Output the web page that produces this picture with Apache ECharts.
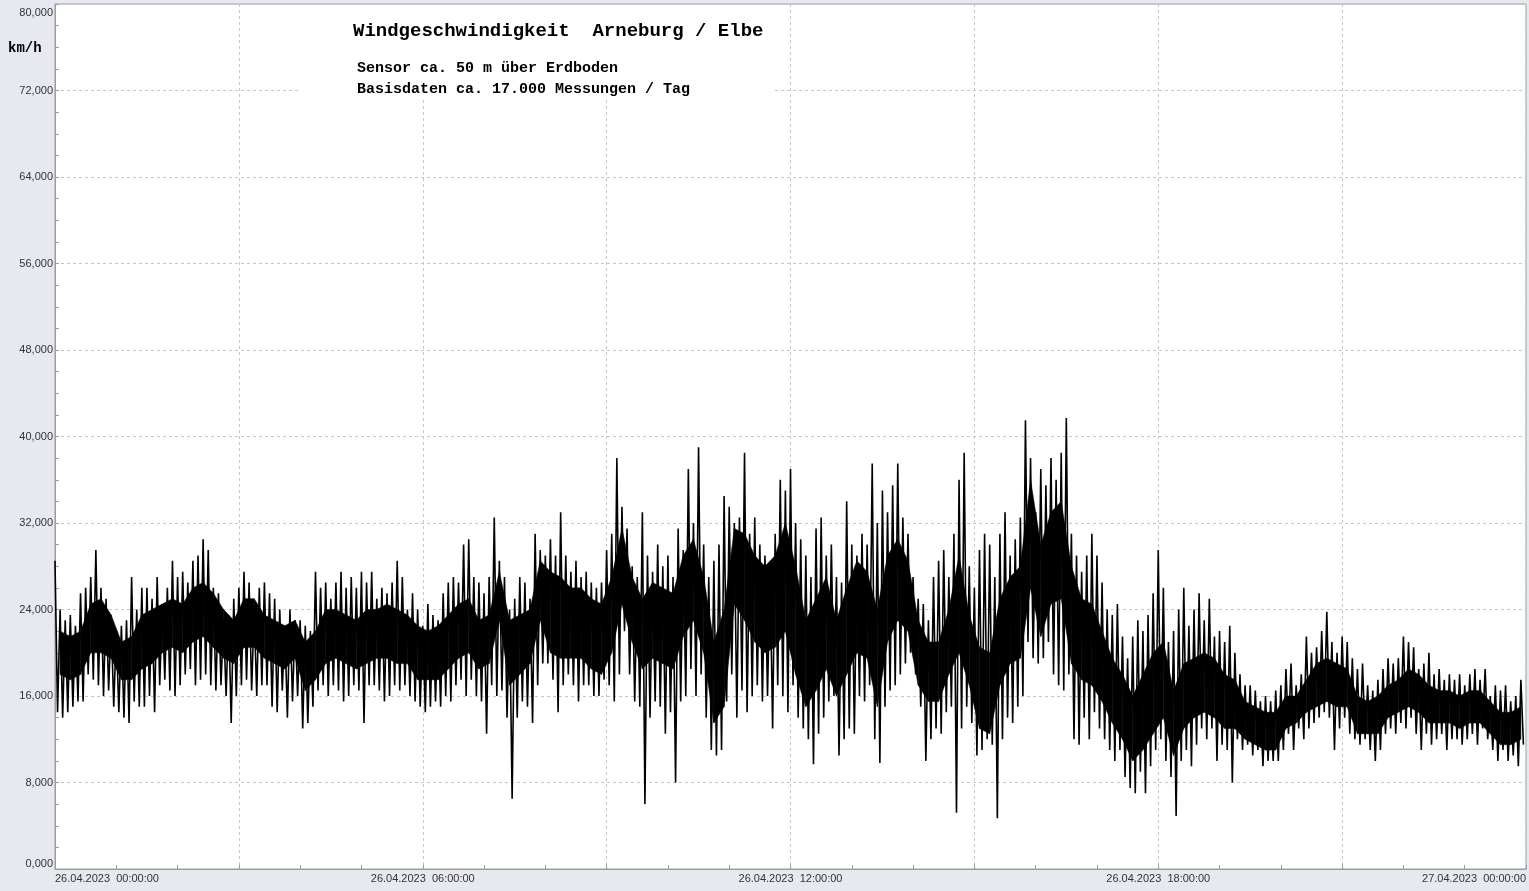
<!DOCTYPE html>
<html>
<head>
<meta charset="utf-8">
<script src="https://cdn.jsdelivr.net/npm/echarts@6/dist/echarts.min.js"></script>
<style>
html,body{margin:0;padding:0;background:#e6e9f0;}
#chart{width:1529px;height:891px;}
</style>
</head>
<body>
<div id="chart"></div>
<script>
// 5-minute bins over 26.04.2023 00:00 -> 27.04.2023 00:00 (288 bins): upper and lower spike reading per bin
const binMinutes = 5;
const hiValues = [
28.5,24,23,23.5,22.5,25.5,26,27,29.5,26,25,23,
22,22.5,23,27,24,26,26,25,27,24.5,26,28.5,
27,27.5,26.5,28.5,29,30.5,29.5,26,25.5,23,23.5,25,
26,27.5,26.5,24,26,26.5,25.5,25,24,22.5,24,23,
23,22.5,22,27.5,26,26.5,25,26.5,27.5,26,27,26,
27.5,26.5,27.5,25,26,25.5,26.5,28.5,27,24,25.5,24,
22.5,24.5,23.5,23,25.5,26.5,27,26.5,30,30.5,27,26.5,
25.5,27,32.5,28.5,27,24,25,27,26.5,25,31,29.5,
29,30.5,29,33,29,27.5,28.5,27,27.5,26.5,26,26.5,
29.5,31,38,33.5,31.5,28,27,33,29,27.5,30,28,
29,27,31.5,29.5,37,32,39,30,27,28.5,30,34.5,
33.5,32,32.5,38.5,31,32.5,30,29,27.5,31,36,35,
37,32,30.5,29,27,31.5,32.5,29,30,27,26.5,34,
30,29,31,30,37.5,32,35,33,35.5,37.5,32.5,31,
27,25,24.5,23,27,28.5,29.5,27,31,36,38.5,28,
26,29.5,31,30,27,31,33,29,30.5,32.5,41.5,38,
33,37,35.5,38,36,38.5,41.7,31,29,27.5,29,31,
29,26.5,24,23.5,24.5,21.5,19.5,21.5,23,22,23.5,25.5,
29.5,26,21,22,24,26,22.5,24,25.5,23,25,21.5,
22,21,22.5,20,18,17,17,16.5,15.5,16,15.5,16.5,
17,18.5,19,17,18,21.5,20,20.5,22,23.8,21,20,
21.5,21,19.5,18.5,19,17,16.5,17.5,18.5,19.5,19,19.5,
21.5,21,20.5,18.5,19,20,18,18.5,17.5,18,17.5,18,
17,18,18.5,17.5,18.5,16,17,16.5,17,15.5,16,17.5
];
const loValues = [
14.5,14,14.5,15,15.5,15.5,18,17.5,17,16,16.5,15,
14.5,14,13.5,15.5,15,15,16,14.5,17,17.5,16.5,16,
17,18,18.5,17,17.5,18,17,16.5,17,16,13.5,16,
17,17.5,16.5,16,17,17,15,14.5,16.5,14,15.5,16,
13,13.5,15,16.5,17,16,17,16.5,15.5,16,17,16.5,
13.5,17,17,16.5,15.5,16,17,16.5,17,16,15.5,15,
14.5,15,15.5,15,16,15.5,17,17.5,16,17.5,16,15.5,
12.5,17,16,16.5,14,6.5,14,15.5,15,13.5,17,19,
19,17.5,14.5,17,18,17,15.5,17,17,16,16,17.5,
17,15.5,18,22,18,15.5,15,6,14,15.5,15,12.5,
14.5,8,15.5,16,18.5,16,18,14,11,10.5,11,15.5,
18,14,16.5,14.5,16,17,15.5,16,13,17,16,14.5,
17,14,13,12,9.7,12.5,14,15.5,16,10.5,12,13,
12.5,16,15.5,17,12,9.8,15,16.5,17,18,19,20,
18,15,10,12,13,12.5,14.5,15,5.2,13,15,13.5,
10.5,11,12,11.5,4.7,12,14,13.5,15,16,21,19.5,
19,19.5,21,18,17,16.5,18,12,11.5,14,12,14.5,
13,12,11,10,11,8.5,7.5,7,9,7,9.5,11,
12,10,8.5,4.9,10,11,9.5,11.5,13,12,13,10,
11.5,11,8,12,11,11.5,10.5,11,9.5,10,10,10,
11,12.5,11,13,12,13,13.5,14,14.5,14,11,13,
14,12.5,12,11.5,12,11,10,11,12.5,13,12.5,13.5,
13,14,12.5,11,12.5,11.5,12,12.5,11,12,12,11.5,
12,12.5,11.5,13,12,11,10,11,10,10.5,9.5,11.5
];
// 10-minute bins (144): upper and lower edge of the dense (solid black) core of the trace
const coreMinutes = 10;
const coreHiValues = [
22,21.5,22,24.5,25,23.5,21,21.5,23.5,24,24.5,25,
24.5,26,26.5,25.5,24,23,25,25,23.5,23,22.5,23,
21,22,24,24,23.5,23,24,24,24.5,24,23.5,22.5,
22,22.5,23.5,24.5,25,23,23.5,27.5,23,23.5,24,28.5,
27.5,27,26,26,25,24.5,27,31.5,27,25,26.5,26,
25.5,29,30.5,27,21,24,31.5,31,29,28,29,32,
28,23,25,27,23,26,28.5,27.5,24,29,30.5,28.5,
23,21,21,24,29,23.5,20.5,20,25,27,28,36,
30,33,34,28,25,24.5,22,19.5,18,16,18,20,
21,16.5,19,19.5,20,19.5,18,17.5,15.5,15,14.5,14.5,
16,16,17.5,19,19.5,19,18.5,16,15.5,16,17,17.5,
18.5,18,17,16.5,16.5,16,16.5,16.5,15.5,14.5,14.5,15
];
const coreLoValues = [
18,17.5,18,20,20,19.5,17.5,17.5,18.5,19,20,20.5,
20,21,21.5,20.5,19.5,19,20.5,20.5,19.5,19,18.5,19.5,
16.5,17.5,19,19.5,19,18.5,19,19.5,19.5,19,19,17.5,
17.5,17.5,18.5,19.5,20,18.5,19,23,17,18,19,23,
20,19.5,19.5,19.5,18.5,18,20,24.5,21,18.5,19.5,19,
18.5,21.5,23,20,13.5,15,24.5,23,21,20,20.5,22,
18,15,16.5,18.5,16,18,20,19.5,15,21,23,22,
17,15.5,15.5,18,20,17,13,12.5,17,19,19.5,26,
21.5,24.5,25,19,17.5,17,15.5,13.5,12,10,11,12.5,
14,10.5,13,14,14.5,14,13,13,12,11.5,11,11,
13,13.5,14.5,15,15.5,15,15,12.5,12.5,12.5,14,14.5,
15,14.5,13.5,13.5,13.5,13,13.5,13.5,12.5,11.5,11.5,12
];
const xTickLabels = ['26.04.2023  00:00:00','26.04.2023  06:00:00','26.04.2023  12:00:00','26.04.2023  18:00:00','27.04.2023  00:00:00'];
const titleText = 'Windgeschwindigkeit  Arneburg / Elbe';
const subLine1 = 'Sensor ca. 50 m über Erdboden';
const subLine2 = 'Basisdaten ca. 17.000 Messungen / Tag';
const unitText = 'km/h';

const traceData = [];
for (let i = 0; i < hiValues.length; i++) {
  traceData.push([i * binMinutes, hiValues[i]]);
  traceData.push([i * binMinutes + binMinutes / 2, loValues[i]]);
}
const coreData = [];
for (let j = 0; j < coreHiValues.length; j++) {
  coreData.push([j * coreMinutes + coreMinutes / 2, coreLoValues[j], coreHiValues[j]]);
}

function renderCore(params, api) {
  const i = params.dataIndexInside;
  if (i >= coreData.length - 1) return null;
  const a = coreData[i], b = coreData[i + 1];
  const pts = [
    api.coord([a[0], a[1]]), api.coord([a[0], a[2]]),
    api.coord([b[0], b[2]]), api.coord([b[0], b[1]])
  ];
  return {type: 'polygon', shape: {points: pts}, style: {fill: '#000', stroke: '#000', lineWidth: 0.5}};
}

const chart = echarts.init(document.getElementById('chart'), null, {renderer: 'canvas'});
const gridColor = '#c6c6c6';
const axisColor = '#9c9c9c';
chart.setOption({
  animation: false,
  backgroundColor: '#e6e9f0',
  grid: {left: 55, right: 3, top: 4, bottom: 22, show: true, backgroundColor: '#ffffff', borderColor: axisColor, borderWidth: 1},
  xAxis: {
    type: 'value', min: 0, max: 1440, interval: 180,
    axisLine: {show: true, lineStyle: {color: axisColor}},
    axisTick: {show: true, inside: true, length: 4, lineStyle: {color: axisColor}},
    minorTick: {show: true, splitNumber: 3, length: 4, lineStyle: {color: axisColor}},
    splitLine: {show: true, lineStyle: {color: gridColor, type: [3, 3], width: 1}},
    axisLabel: {
      margin: 4, color: '#333', fontFamily: 'Liberation Sans, Arial, sans-serif', fontSize: 11,
      alignMinLabel: 'left', alignMaxLabel: 'right',
      formatter: function (v) { return (v % 360 === 0) ? xTickLabels[v / 360] : ''; }
    }
  },
  yAxis: {
    type: 'value', min: 0, max: 80, interval: 8,
    axisLine: {show: true, lineStyle: {color: axisColor}},
    axisTick: {show: true, inside: true, length: 4, lineStyle: {color: axisColor}},
    minorTick: {show: true, splitNumber: 4, length: 4, lineStyle: {color: axisColor}},
    splitLine: {show: true, lineStyle: {color: gridColor, type: [3, 3], width: 1}},
    axisLabel: {
      margin: 2, color: '#333', fontFamily: 'Liberation Sans, Arial, sans-serif', fontSize: 11,
      padding: [3, 0, 0, 0],
      verticalAlignMaxLabel: 'top', verticalAlignMinLabel: 'bottom',
      formatter: function (v) { return v.toFixed(3).replace('.', ','); }
    }
  },
  series: [
    {
      type: 'custom', data: coreData, renderItem: renderCore, silent: true,
      encode: {x: 0, y: [1, 2]}, z: 2
    },
    {
      type: 'line', data: traceData, showSymbol: false, sampling: null,
      lineStyle: {color: '#000', width: 1.6}, silent: true, z: 3
    }
  ],
  graphic: [
    {type: 'rect', left: 300, top: 5, z: 10, shape: {width: 472, height: 92}, style: {fill: '#ffffff'}},
    {type: 'text', left: 353, top: 22, z: 11, style: {text: titleText, font: 'bold 19px "Liberation Mono", "Courier New", monospace', fill: '#000'}},
    {type: 'text', left: 357, top: 61, z: 11, style: {text: subLine1, font: 'bold 15px "Liberation Mono", "Courier New", monospace', fill: '#000'}},
    {type: 'text', left: 357, top: 82, z: 11, style: {text: subLine2, font: 'bold 15px "Liberation Mono", "Courier New", monospace', fill: '#000'}},
    {type: 'text', left: 8, top: 41, z: 11, style: {text: unitText, font: 'bold 14px "Liberation Mono", "Courier New", monospace', fill: '#000'}}
  ]
});
</script>
</body>
</html>
